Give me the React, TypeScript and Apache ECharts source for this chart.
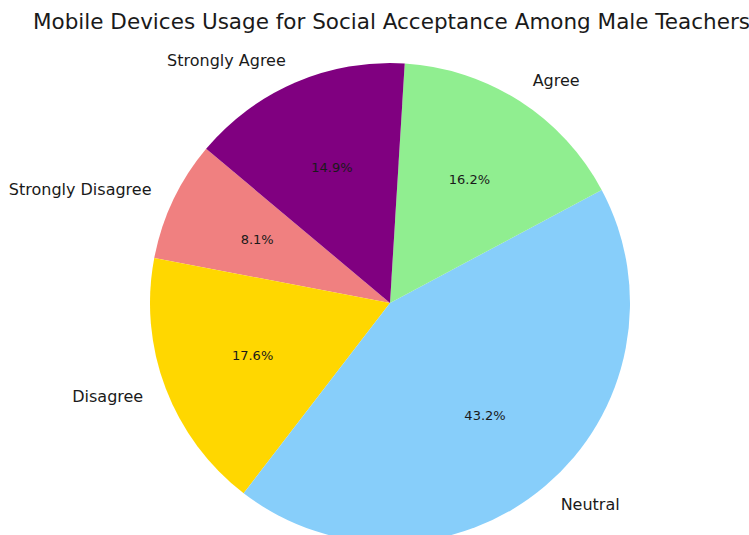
import React, { useEffect, useRef } from "react";
import * as echarts from "echarts";

const categories = ["Strongly Disagree", "Disagree", "Neutral", "Agree", "Strongly Agree"];
const counts = [6, 13, 32, 12, 11];
const colors = ["#F08080", "#FFD700", "#87CEFA", "#90EE90", "#800080"];
const titleText = "Mobile Devices Usage for Social Acceptance Among Male Teachers";

const FONT = "'DejaVu Sans', sans-serif";

export default function App() {
  const ref = useRef<HTMLDivElement>(null);
  useEffect(() => {
    if (!ref.current) return;
    const chart = echarts.init(ref.current, null, { renderer: "svg" });
    const total = counts.reduce((a, b) => a + b, 0);
    const data = categories.map((name, i) => ({
      name,
      value: counts[i],
      itemStyle: { color: colors[i] },
    }));
    const R = 240;
    chart.setOption({
      animation: false,
      backgroundColor: "#ffffff",
      title: {
        text: titleText,
        left: 33,
        top: 10,
        padding: 0,
        textStyle: { fontFamily: FONT, fontSize: 21.5, fontWeight: "normal", color: "#1a1a1a" },
      },
      series: [
        {
          type: "pie",
          center: [390, 303],
          radius: [0, R],
          startAngle: 140,
          clockwise: false,
          avoidLabelOverlap: false,
          silent: true,
          emphasis: { disabled: true },
          itemStyle: { borderWidth: 0 },
          label: {
            show: true,
            position: "outside",
            distanceToLabelLine: 0,
            fontFamily: FONT,
            fontSize: 16,
            color: "#1a1a1a",
            formatter: "{b}",
          },
          labelLine: { show: false, length: 24, length2: 0 },
          data,
        },
        {
          type: "pie",
          center: [390, 303],
          radius: [0, R * 1.2],
          startAngle: 140,
          clockwise: false,
          avoidLabelOverlap: false,
          silent: true,
          emphasis: { disabled: true },
          itemStyle: { color: "rgba(0,0,0,0)", borderWidth: 0 },
          label: {
            show: true,
            position: "inside",
            fontFamily: FONT,
            fontSize: 13,
            color: "#1a1a1a",
            formatter: (p: any) => ((p.value / total) * 100).toFixed(1) + "%",
          },
          labelLine: { show: false },
          data: categories.map((name, i) => ({ name, value: counts[i] })),
        },
      ],
    });
    return () => chart.dispose();
  }, []);
  return (
    <div
      ref={ref}
      style={{ position: "fixed", left: 0, top: 0, width: 749, height: 535, background: "#fff" }}
    />
  );
}
